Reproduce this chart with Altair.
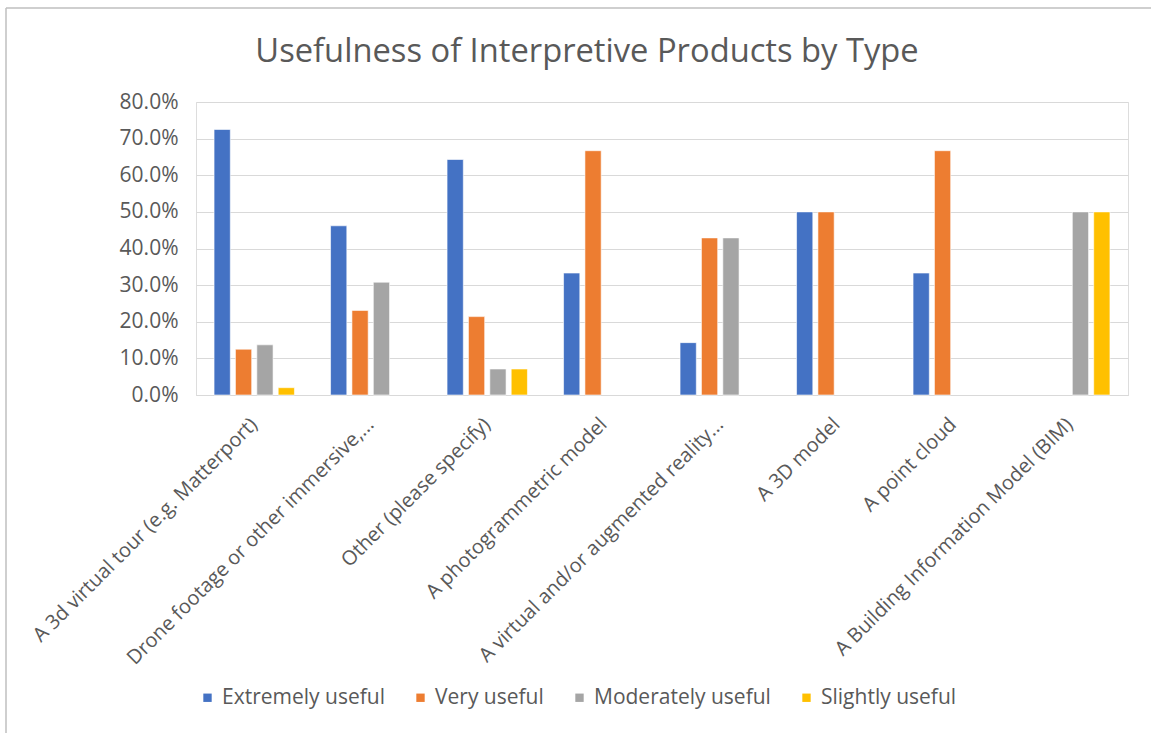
import altair as alt
import pandas as pd

# Product types (in chart order) and share of respondents per usefulness level
products = [
    "A 3d virtual tour (e.g. Matterport)",
    "Drone footage or other immersive,...",
    "Other (please specify)",
    "A photogrammetric model",
    "A virtual and/or augmented reality...",
    "A 3D model",
    "A point cloud",
    "A Building Information Model (BIM)",
]
levels = ["Extremely useful", "Very useful", "Moderately useful", "Slightly useful"]
colors = ["#4472C4", "#ED7D31", "#A5A5A5", "#FFC000"]

extremely = [0.725, 0.462, 0.643, 0.333, 0.143, 0.500, 0.333, 0.0]
very = [0.125, 0.231, 0.214, 0.667, 0.429, 0.500, 0.667, 0.0]
moderately = [0.137, 0.308, 0.071, 0.0, 0.429, 0.0, 0.0, 0.500]
slightly = [0.020, 0.0, 0.071, 0.0, 0.0, 0.0, 0.0, 0.500]

title_text = "Usefulness of Interpretive Products by Type"

rows = []
for lvl, vals in zip(levels, [extremely, very, moderately, slightly]):
    for prod, v in zip(products, vals):
        if v > 0:
            rows.append({"product": prod, "level": lvl, "share": v})
df = pd.DataFrame(rows)

FONT = "Open Sans"
TEXT = "#595959"
PLOT_W, PLOT_H = 932, 293
LEFT, TOP = 196, 102

bars = alt.Chart(df).mark_bar(stroke="white", strokeWidth=0.6).encode(
    x=alt.X(
        "product:N",
        sort=products,
        title=None,
        scale=alt.Scale(paddingInner=0.31, paddingOuter=0.155),
        axis=alt.Axis(
            labelAngle=-45,
            labelAlign="right",
            labelBaseline="middle",
            labelFont=FONT,
            labelFontSize=20,
            labelColor=TEXT,
            labelPadding=26,
            labelLimit=500,
            ticks=False,
            domainColor="#D9D9D9",
            domainWidth=1.2,
        ),
    ),
    xOffset=alt.XOffset(
        "level:N",
        sort=levels,
        scale=alt.Scale(domain=levels, paddingInner=0.24, paddingOuter=0),
    ),
    y=alt.Y(
        "share:Q",
        title=None,
        scale=alt.Scale(domain=[0, 0.8], nice=False),
        axis=alt.Axis(
            values=[0, 0.1, 0.2, 0.3, 0.4, 0.5, 0.6, 0.7, 0.8],
            format=".1%",
            labelFont=FONT,
            labelFontSize=21,
            labelColor=TEXT,
            labelPadding=18,
            ticks=False,
            domain=False,
            gridColor="#D9D9D9",
            gridWidth=1.2,
        ),
    ),
    color=alt.Color(
        "level:N",
        sort=levels,
        scale=alt.Scale(domain=levels, range=colors),
        legend=alt.Legend(
            title=None,
            orient="none",
            direction="horizontal",
            legendX=1,
            legendY=585,
            symbolType="square",
            symbolSize=70,
            symbolStrokeWidth=0,
            labelFont=FONT,
            labelFontSize=21,
            labelColor=TEXT,
            labelOffset=4,
            labelLimit=400,
            columnPadding=25,
        ),
    ),
)

# Chart heading, centred over the whole figure
heading = alt.Chart(pd.DataFrame({"t": [title_text]})).mark_text(
    font=FONT, fontSize=32.7, color=TEXT, align="center", baseline="alphabetic"
).encode(text="t:N", x=alt.value(587 - LEFT), y=alt.value(62 - TOP))

# Frame lines along the top and left edges of the figure
top_edge = alt.Chart(pd.DataFrame({"k": [0]})).mark_rule(color="#BFBFBF", strokeWidth=1.5).encode(
    x=alt.value(6 - LEFT), x2=alt.value(1151 - LEFT), y=alt.value(8 - TOP)
)
left_edge = alt.Chart(pd.DataFrame({"k": [0]})).mark_rule(color="#BFBFBF", strokeWidth=1.5).encode(
    x=alt.value(6 - LEFT), y=alt.value(8 - TOP), y2=alt.value(733 - TOP)
)

chart = alt.layer(bars, heading, top_edge, left_edge).properties(
    width=PLOT_W,
    height=PLOT_H,
    autosize=alt.AutoSizeParams(type="none"),
    padding={"left": LEFT, "top": TOP, "right": 1151 - LEFT - PLOT_W, "bottom": 733 - TOP - PLOT_H},
).configure_view(stroke=None).configure(background="white")

chart.save("out.html", embed_options={"renderer": "svg", "actions": False})
